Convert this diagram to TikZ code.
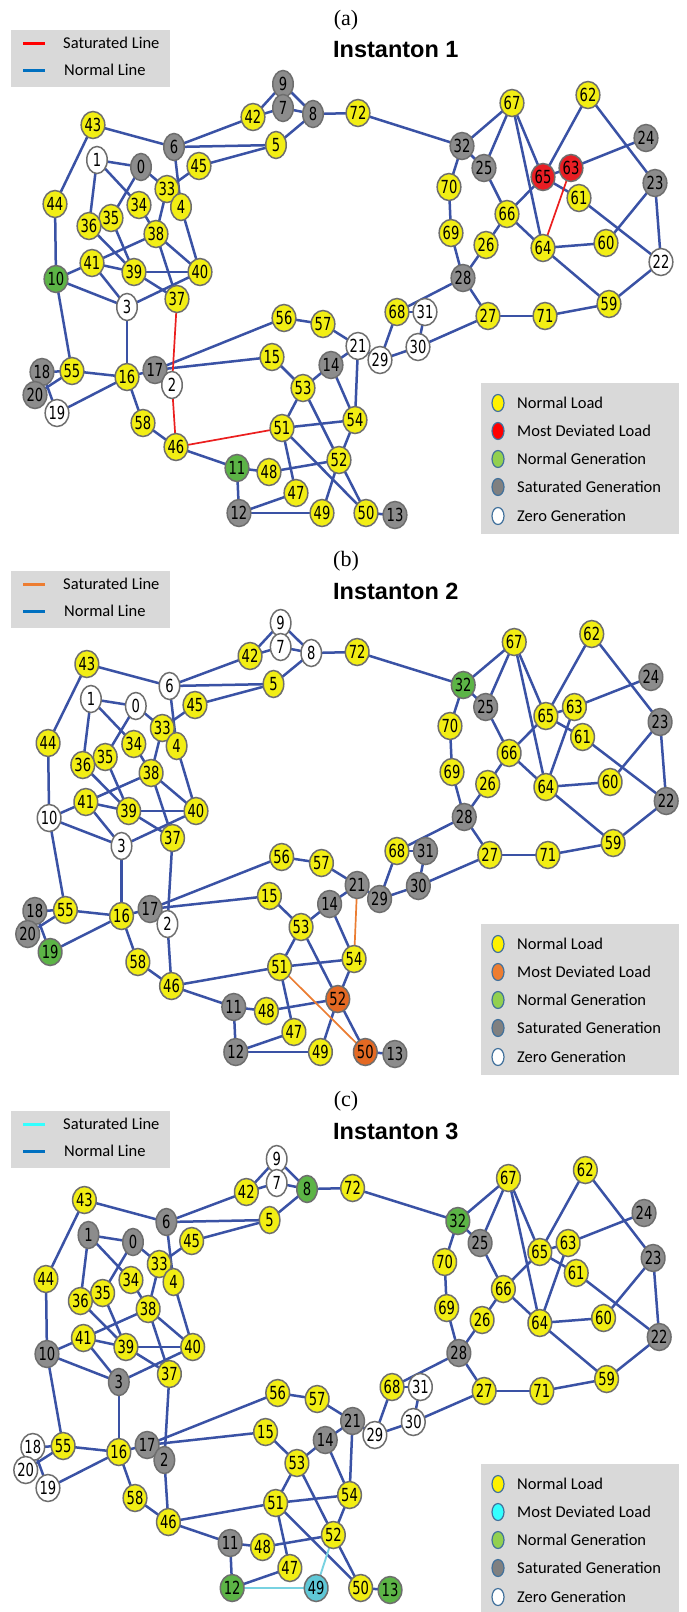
\documentclass[tikz,border=0pt]{standalone}
\usepackage{fontspec}
\setmainfont{Liberation Serif}
\newfontfamily\nodefont[FakeStretch=0.73]{DejaVu Sans}
\newfontfamily\legfont{Carlito}
\newfontfamily\titlefont{Liberation Sans}
\usetikzlibrary{shapes.geometric}
\pgfdeclarelayer{bottom}
\pgfdeclarelayer{edges}
\pgfsetlayers{bottom,edges,main}

\definecolor{edgeblue}{RGB}{58,82,165}
\definecolor{nyellow}{RGB}{242,238,20}
\definecolor{ngray}{RGB}{140,140,140}
\definecolor{ngreen}{RGB}{92,180,70}
\definecolor{nred}{RGB}{232,30,36}
\definecolor{norange}{RGB}{228,105,35}
\definecolor{ncyan}{RGB}{95,200,215}
\definecolor{nborder}{RGB}{110,110,110}
\definecolor{satred}{RGB}{235,30,30}
\definecolor{satorange}{RGB}{235,125,50}
\definecolor{satcyan}{RGB}{120,210,225}
\definecolor{legred}{RGB}{255,0,0}
\definecolor{legorange}{RGB}{237,125,49}
\definecolor{legcyan}{RGB}{51,255,255}
\definecolor{legblue}{RGB}{0,112,192}
\definecolor{legbox}{RGB}{217,217,217}
\definecolor{legedge}{RGB}{65,113,156}
\definecolor{leggreen}{RGB}{146,208,80}
\definecolor{leggray}{RGB}{128,128,128}

\tikzset{
  nd/.style={ellipse, draw=nborder, line width=1.5pt, minimum width=20.5pt,
    minimum height=27pt, inner sep=0pt, font=\nodefont\fontsize{18}{18}\selectfont},
  ld/.style={nd, fill=nyellow},
  sg/.style={nd, fill=ngray},
  ng/.style={nd, fill=ngreen},
  zg/.style={nd, fill=white},
  mda/.style={nd, fill=nred},
  mdb/.style={nd, fill=norange},
  mdc/.style={nd, fill=ncyan},
  ed/.style={draw=edgeblue, line width=2.5pt},
  sata/.style={draw=satred, line width=1.7pt},
  satb/.style={draw=satorange, line width=1.7pt},
  satc/.style={draw=satcyan, line width=1.9pt},
  lbox/.style={rectangle, fill=legbox, inner sep=0pt, anchor=north west},
  legtxt/.style={anchor=west, inner sep=0pt, font=\legfont\fontsize{16.5}{17}\selectfont},
  legell/.style={ellipse, draw=legedge, line width=1.2pt, minimum width=12pt,
    minimum height=17pt, inner sep=0pt},
  lab/.style={inner sep=0pt, font=\fontsize{22}{22}\selectfont},
  ttl/.style={inner sep=0pt, anchor=west, font=\titlefont\bfseries\fontsize{23.5}{24}\selectfont},
}

\newcommand\nodelist{9/283/84, 7/283/108, 42/253/117, 8/313/114, 72/358/113,
 6/174/147, 5/276/145, 45/199/166, 43/93/125, 1/97/160, 0/141/167, 33/167/189,
 4/181/207, 44/55/204, 34/139/205, 35/111/218, 36/89/226, 38/156/234, 41/92/263,
 39/134/272, 40/200/272, 10/56/279, 37/177/299, 3/127/307, 56/284/318,
 57/323/324, 21/358/346, 29/380/360, 14/331/365, 15/272/357, 18/42/372,
 55/72/371, 16/127/377, 17/155/370, 2/172/385, 20/35/395, 19/57/413,
 53/303/388, 54/355/420, 51/282/428, 58/143/423, 46/176/447, 11/237/468,
 48/269/472, 52/339/460, 47/296/493, 12/239/513, 49/322/513, 50/366/513,
 13/395/515, 68/397/312, 31/425/312, 30/418/347, 28/463/278, 27/488/316,
 71/545/316, 59/609/304, 22/661/262, 60/606/243, 64/543/248, 26/486/245,
 69/451/233, 66/507/214, 70/449/187, 61/579/198, 23/655/183, 65/543/177,
 63/571/168, 25/484/168, 24/646/138, 32/462/146, 62/588/95, 67/512/103}

\newcommand\edgelist{43/6, 43/44, 44/10, 1/0, 1/36, 1/34, 34/38, 0/35, 0/33,
 6/4, 45/33, 33/38, 4/40, 36/39, 35/39, 10/41, 41/38, 41/39, 41/3, 39/40,
 39/37, 38/40, 38/37, 10/3, 3/40, 10/55, 3/16, 18/55, 20/55, 18/19, 19/16,
 55/16, 16/17, 16/58, 58/46, 37/2, 2/46, 17/56, 17/15, 56/57, 57/21, 21/14,
 21/29, 21/54, 14/53, 14/54, 15/53, 53/51, 53/52, 51/54, 51/47, 51/50, 46/51,
 46/11, 11/48, 11/12, 48/52, 52/54, 52/49, 52/50, 12/47, 12/49, 50/13, 29/68,
 29/30, 68/31, 68/28, 31/30, 30/27, 28/27, 28/69, 28/26, 26/66, 69/70, 70/32,
 32/72, 32/67, 32/25, 25/67, 25/66, 66/65, 66/64, 67/65, 67/64, 65/62, 65/63,
 65/61, 63/24, 63/64, 62/23, 23/60, 23/22, 61/22, 64/60, 64/59, 59/22, 27/71,
 71/59, 42/9, 42/7, 9/8, 7/8, 8/72, 8/5, 6/42, 6/5, 45/5}

\newcommand\setcls[3]{\foreach \n in {#3}{\expandafter\xdef\csname cls#1\n\endcsname{#2}}}
\newcommand\setsat[3]{\expandafter\gdef\csname sat#1#2-#3\endcsname{}}

% panel (a)
\setcls{a}{sg}{9,7,8,6,0,32,25,24,23,28,18,20,17,14,12,13}
\setcls{a}{ng}{10,11}
\setcls{a}{zg}{1,3,2,21,29,30,31,22,19}
\setcls{a}{mda}{65,63}
\setsat{a}{37}{2}\setsat{a}{2}{46}\setsat{a}{46}{51}\setsat{a}{63}{64}
% panel (b)
\setcls{b}{zg}{9,7,8,6,1,0,10,3,2}
\setcls{b}{sg}{25,24,23,22,28,31,30,29,21,14,18,20,17,11,12,13}
\setcls{b}{ng}{32,19}
\setcls{b}{mdb}{52,50}
\setsat{b}{21}{54}\setsat{b}{51}{50}
% panel (c)
\setcls{c}{zg}{9,7,31,30,29,18,20,19}
\setcls{c}{ng}{8,32,12,13}
\setcls{c}{sg}{6,1,0,10,3,17,2,25,24,23,22,28,21,14,11}
\setcls{c}{mdc}{49}
\setsat{c}{12}{49}\setsat{c}{52}{49}

\newcommand\drawnodes[1]{%
  \foreach \n/\x/\y in \nodelist {%
    \edef\tmp{\noexpand\node[\ifcsname cls#1\n\endcsname\csname cls#1\n\endcsname\else ld\fi] (#1\n) at (\x,\y) {\n};}%
    \tmp
  }}

\newcommand\drawedges[1]{%
  \begin{pgfonlayer}{edges}
  \foreach \u/\v in \edgelist {%
    \ifcsname sat#1\u-\v\endcsname\else
      \draw[ed] (#1\u.center) -- (#1\v.center);
    \fi
  }
  \foreach \u/\v in \edgelist {%
    \ifcsname sat#1\u-\v\endcsname
      \draw[sat#1] (#1\u.center) -- (#1\v.center);
    \fi
  }
  \end{pgfonlayer}}

% #1 y offset, #2 letter, #3 title, #4 saturated line colour, #5 most deviated colour
\newcommand\panelframe[5]{%
  \begin{scope}[shift={(0,#1)}]
    \node[lab] (lab#2) at (346,20) {(#2)};
    \node[ttl] (ttl#2) at (333,50) {#3};
    \node[lbox, minimum width=159pt, minimum height=57pt] (lbA#2) at (11,30) {};
    \draw[line width=3pt, #4] (23,43) -- (45,43);
    \draw[line width=3pt, legblue] (23,70) -- (45,70);
    \node[legtxt] (ls#2) at (63,43) {Saturated Line};
    \node[legtxt] (ln#2) at (64,70) {Normal Line};
    \node[lbox, minimum width=198pt, minimum height=151pt] (lbB#2) at (481,383) {};
    \node[legell, fill=yellow] (e1#2) at (498,403) {};
    \node[legell, fill=#5] (e2#2) at (498,431) {};
    \node[legell, fill=leggreen] (e3#2) at (498,459) {};
    \node[legell, fill=leggray] (e4#2) at (498,487) {};
    \node[legell, fill=white] (e5#2) at (498,516) {};
    \node[legtxt] (t1#2) at (517,403) {Normal Load};
    \node[legtxt] (t2#2) at (517,431) {Most Deviated Load};
    \node[legtxt] (t3#2) at (517,459) {Normal Generation};
    \node[legtxt] (t4#2) at (517,487) {Saturated Generation};
    \node[legtxt] (t5#2) at (517,516) {Zero Generation};
  \end{scope}}

\begin{document}
\begin{tikzpicture}[x=1pt,y=-1pt]
\begin{pgfonlayer}{bottom}
  \fill[white] (0,0) rectangle (686,1612);
\end{pgfonlayer}
\useasboundingbox (0,0) rectangle (686,1612);

\panelframe{0}{a}{Instanton 1}{legred}{legred}
\panelframe{541}{b}{Instanton 2}{legorange}{legorange}
\panelframe{1081}{c}{Instanton 3}{legcyan}{legcyan}

% panel (a)
\begin{scope}
  \drawnodes{a}
\end{scope}
\drawedges{a}

% panel (b)
\begin{scope}[shift={(-8,539)}]
\begin{scope}[xscale=1.02]
  \drawnodes{b}
\end{scope}
\end{scope}
\drawedges{b}

% panel (c)
\begin{scope}[shift={(-9.7,1075)}]
\begin{scope}[xscale=1.012]
  \drawnodes{c}
\end{scope}
\end{scope}
\drawedges{c}

\end{tikzpicture}
\end{document}
